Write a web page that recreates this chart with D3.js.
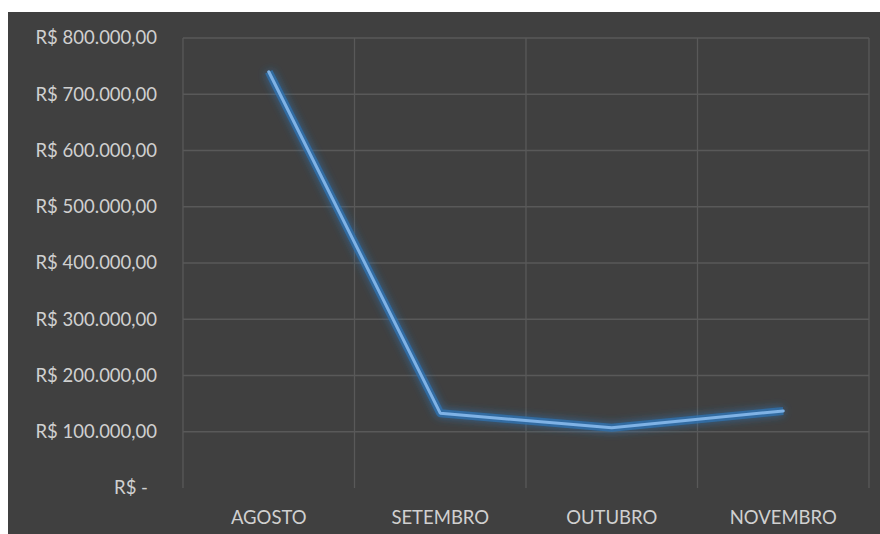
<!DOCTYPE html>
<html>
<head>
<meta charset="utf-8">
<script src="https://cdn.jsdelivr.net/npm/d3@7"></script>
<style>
  body { margin: 0; background: #fff; }
  .chart text { font-family: Lato, "Open Sans", sans-serif; fill: #d0d0d0; }
</style>
</head>
<body>
<div class="chart"></div>
<script>
var months = ["AGOSTO", "SETEMBRO", "OUTUBRO", "NOVEMBRO"];
var values = [740000, 133000, 107000, 137000];
var yTicks = [0, 100000, 200000, 300000, 400000, 500000, 600000, 700000, 800000];

function fmt(d) {
	if (d == 0) return "R$ -";
	return "R$ " + d.toLocaleString("pt-BR", {minimumFractionDigits: 2});
}

function drawChart() {
	var sel = d3.select(".chart").html("");
	var width = 880, height = 534;

	var svg = sel.append("svg")
		.attr("width", width)
		.attr("height", height);

	var defs = svg.append("defs");
	var glow = defs.append("filter").attr("id", "glow")
		.attr("x", "-20%").attr("y", "-20%").attr("width", "140%").attr("height", "140%");
	glow.append("feGaussianBlur").attr("stdDeviation", 4).attr("result", "b");
	var merge = glow.append("feMerge");
	merge.append("feMergeNode").attr("in", "b");
	merge.append("feMergeNode").attr("in", "SourceGraphic");

	// dark chart area
	svg.append("rect")
		.attr("x", 8).attr("y", 12)
		.attr("width", width - 8).attr("height", height - 12)
		.style("fill", "#404040");

	var margin = {top: 38, right: 11, bottom: 46, left: 183};
	var w = width - margin.left - margin.right;
	var h = height - margin.top - margin.bottom;

	var x = d3.scaleBand().domain(months).range([0, w]);
	var y = d3.scaleLinear().domain([0, 800000]).range([h, 0]);

	var g = svg.append("g").attr("transform", "translate(" + margin.left + "," + margin.top + ")");

	// horizontal grid
	g.selectAll("line.hgrid").data(yTicks.filter(d => d > 0)).enter().append("line")
		.attr("class", "hgrid")
		.attr("x1", 0).attr("x2", w)
		.attr("y1", d => y(d)).attr("y2", d => y(d))
		.style("stroke", "#595959").style("stroke-width", 1.3);

	// vertical grid
	var vx = months.map(m => x(m)).concat([w]);
	g.selectAll("line.vgrid").data(vx).enter().append("line")
		.attr("class", "vgrid")
		.attr("x1", d => d).attr("x2", d => d)
		.attr("y1", 0).attr("y2", h)
		.style("stroke", "#595959").style("stroke-width", 1.3);

	// y labels
	g.selectAll("text.ylab").data(yTicks).enter().append("text")
		.attr("class", "ylab")
		.attr("x", d => d == 0 ? -35 : -26)
		.attr("y", d => y(d))
		.attr("dy", "0.35em")
		.attr("text-anchor", "end")
		.style("font-size", "18.5px")
		.text(fmt);

	// x labels
	g.selectAll("text.xlab").data(months).enter().append("text")
		.attr("class", "xlab")
		.attr("x", d => x(d) + x.bandwidth() / 2)
		.attr("y", h + 30)
		.attr("dy", "0.35em")
		.attr("text-anchor", "middle")
		.style("font-size", "18.5px")
		.text(d => d);

	var line = d3.line()
		.x((d, i) => x(months[i]) + x.bandwidth() / 2)
		.y(d => y(d));

	g.append("path")
		.datum(values)
		.attr("d", line)
		.style("fill", "none")
		.style("stroke", "#2e75b6")
		.style("stroke-width", 8)
		.style("stroke-opacity", 0.7)
		.style("stroke-linejoin", "round")
		.attr("filter", "url(#glow)");

	g.append("path")
		.datum(values)
		.attr("d", line)
		.style("fill", "none")
		.style("stroke", "#7fb2e5")
		.style("stroke-width", 3)
		.style("stroke-linejoin", "round")
		.style("stroke-linecap", "round");
}

drawChart();
</script>
</body>
</html>
